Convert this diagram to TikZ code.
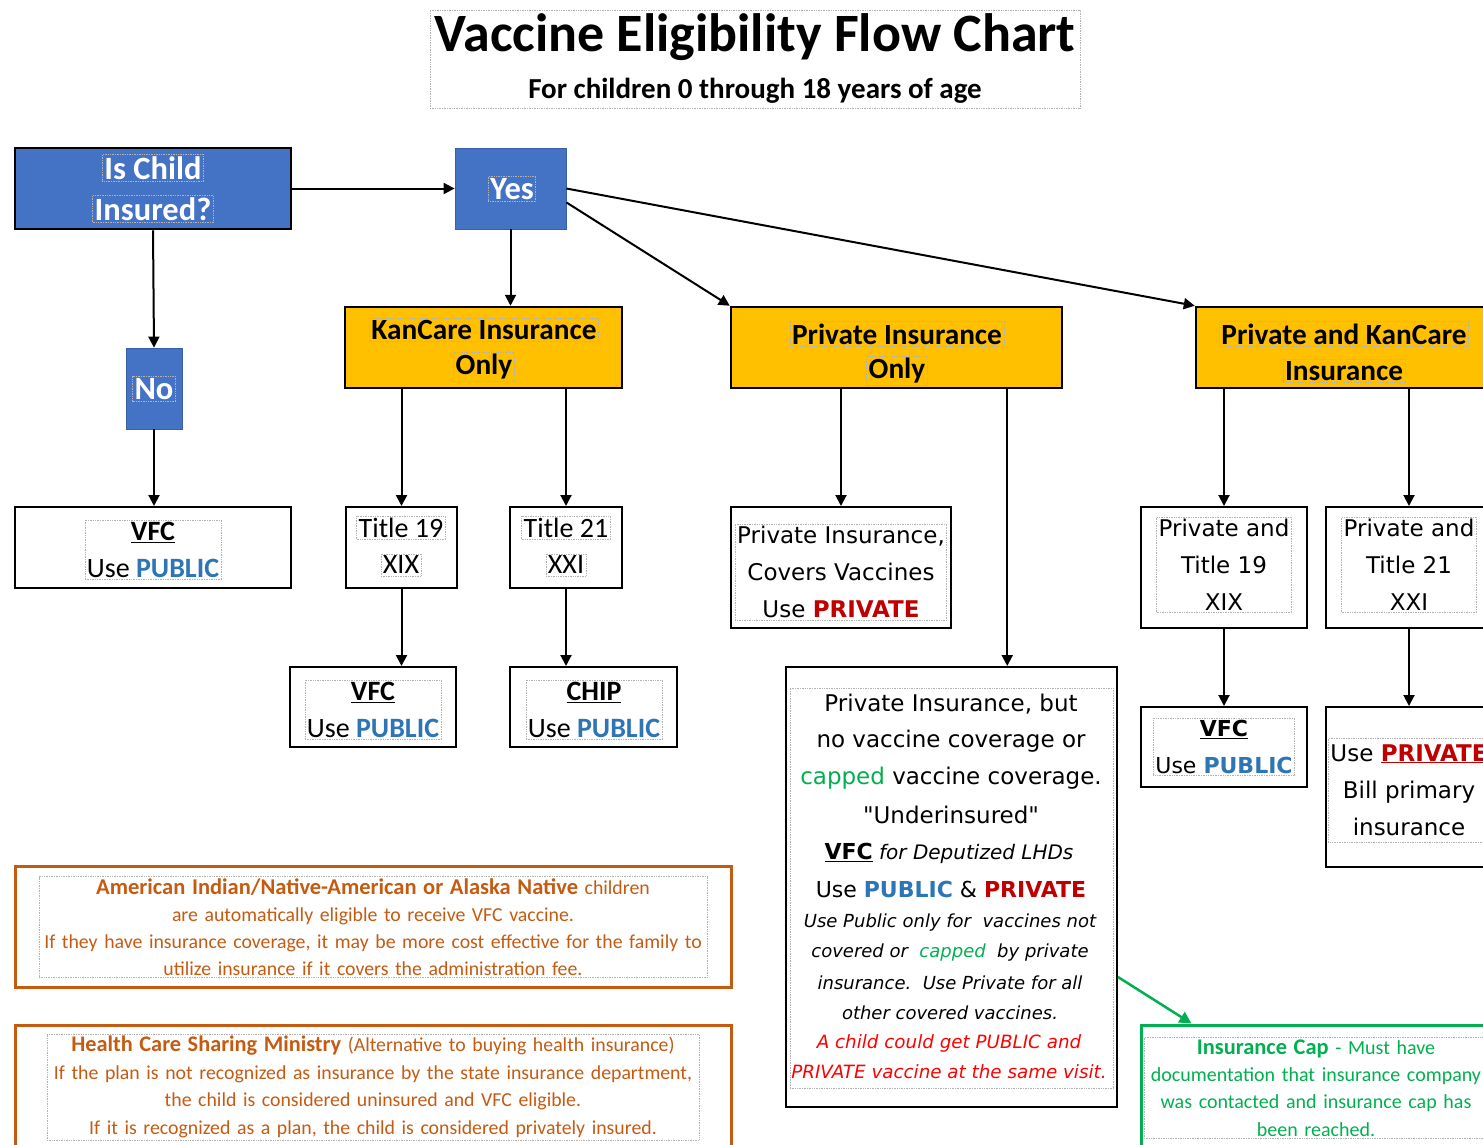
\documentclass[tikz,border=0pt]{standalone}
\usepackage{fontspec}
\setmainfont{Carlito}
\newfontfamily\ver{DejaVu Sans}[ItalicFont={DejaVu Sans Oblique},BoldItalicFont={DejaVu Sans Bold Oblique}]
\usetikzlibrary{arrows.meta,calc}
\definecolor{cblue}{HTML}{4472C4}
\definecolor{cyel}{HTML}{FFC000}
\definecolor{cpub}{HTML}{2E75B6}
\definecolor{cred}{HTML}{C00000}
\definecolor{cbright}{HTML}{FF0000}
\definecolor{cgreen}{HTML}{00B050}
\definecolor{corange}{HTML}{C55A11}
\newcommand\fsz[2]{\fontsize{#1}{#2}\selectfont}
\begin{document}
\begin{tikzpicture}[x=1pt,y=-1pt,
  arr/.style={draw=black,line width=2pt,-{Triangle[length=11pt,width=11pt]}},
  bluebox/.style={fill=cblue,draw=cblue!85!black,line width=0.8pt},
  qbox/.style={fill=cblue,draw=black,line width=2.5pt},
  ybox/.style={fill=cyel,draw=black,line width=2.5pt},
  wbox/.style={fill=white,draw=black,line width=2pt},
  obox/.style={draw=corange,line width=3pt},
  gbox/.style={draw=cgreen,line width=3pt},
  tf/.style={draw=gray!60,densely dotted,line width=0.7pt,inner sep=2pt,align=center},
  plain/.style={inner sep=1pt,align=center},
  wtxt/.style={tf,text=white,font=\fsz{32.5}{38}\bfseries},
  ytxt/.style={tf,text=black,font=\fsz{29.3}{35}\bfseries},
  ctxt/.style={tf,font=\fsz{28}{37}},
  vtxt/.style={tf,font=\ver\fsz{23}{37}},
]
\useasboundingbox (0,0) rectangle (1483,1144);

% title
\node[tf,minimum width=650pt,minimum height=98pt] (titlebox) at (755,59) {};
\node[plain,font=\fsz{54}{62}\bfseries] (title) at (755,37) {Vaccine Eligibility Flow Chart};
\node[plain,font=\fsz{29}{34}\bfseries] (sub) at (755,91) {For children 0 through 18 years of age};

% main boxes
\node[qbox,minimum width=276pt,minimum height=81pt] (q) at (153,188.5) {};
\node[bluebox,minimum width=111pt,minimum height=81pt] (yes) at (510.5,188.5) {};
\node[bluebox,minimum width=56pt,minimum height=81pt] (no) at (154,388.5) {};
\node[ybox,minimum width=277pt,minimum height=81pt] (kan) at (483.5,347.5) {};
\node[ybox,minimum width=331pt,minimum height=81pt] (pio) at (896.5,347.5) {};
\node[ybox,minimum width=296pt,minimum height=81pt] (pk) at (1344,347.5) {};
\node[wbox,minimum width=276pt,minimum height=81pt] (vfc1) at (153,547.5) {};
\node[wbox,minimum width=111pt,minimum height=81pt] (t19) at (401.5,547.5) {};
\node[wbox,minimum width=112pt,minimum height=81pt] (t21) at (566,547.5) {};
\node[wbox,minimum width=166pt,minimum height=80pt] (vfc2) at (373,707) {};
\node[wbox,minimum width=167pt,minimum height=80pt] (chip) at (593.5,707) {};
\node[wbox,minimum width=220pt,minimum height=121pt] (pcov) at (841,567.5) {};
\node[wbox,minimum width=331pt,minimum height=440pt] (under) at (951.5,887) {};
\node[wbox,minimum width=166pt,minimum height=121pt] (pt19) at (1224,567.5) {};
\node[wbox,minimum width=166pt,minimum height=121pt] (pt21) at (1409,567.5) {};
\node[wbox,minimum width=166pt,minimum height=80pt] (vfc3) at (1224,747) {};
\node[wbox,minimum width=166pt,minimum height=160pt] (bill) at (1409,787) {};
\node[obox,minimum width=716pt,minimum height=121pt] (ai) at (373,926.5) {};
\node[obox,minimum width=716pt,minimum height=130pt] (hcsm) at (373,1090) {};
\node[gbox,minimum width=348pt,minimum height=130pt] (cap) at (1315,1090) {};

% texts in coloured boxes
\node[wtxt] (qa) at (153,168) {Is Child};
\node[wtxt] (qb) at (153,209) {Insured?};
\node[wtxt] (yest) at (512,189) {Yes};
\node[wtxt] (not) at (154,389) {No};
\node[ytxt] (kana) at (484,330) {KanCare Insurance};
\node[ytxt] (kanb) at (484,367) {Only};
\node[ytxt] (pioa) at (897,334) {Private Insurance};
\node[ytxt] (piob) at (897,371) {Only};
\node[ytxt] (pka) at (1344,334) {Private and KanCare};
\node[ytxt] (pkb) at (1344,371) {Insurance};

% texts in white boxes
\node[ctxt] (vfc1t) at (153,550) {\underline{\textbf{VFC}}\\Use \textbf{\color{cpub}PUBLIC}};
\node[ctxt] (t19a) at (401,528) {Title 19};
\node[ctxt] (t19b) at (401,565) {XIX};
\node[ctxt] (t21a) at (566,528) {Title 21};
\node[ctxt] (t21b) at (566,565) {XXI};
\node[ctxt] (vfc2t) at (373,710) {\underline{\textbf{VFC}}\\Use \textbf{\color{cpub}PUBLIC}};
\node[ctxt] (chipt) at (594,710) {\underline{\textbf{CHIP}}\\Use \textbf{\color{cpub}PUBLIC}};
\node[vtxt] (pcovt) at (841,572) {Private Insurance,\\Covers Vaccines\\Use \textbf{\color{cred}PRIVATE}};
\node[vtxt] (pt19t) at (1224,565) {Private and\\Title 19\\XIX};
\node[vtxt] (pt21t) at (1409,565) {Private and\\Title 21\\XXI};
\node[tf,font=\ver\fsz{22}{37}] (vfc3t) at (1224,747) {\underline{\textbf{VFC}}\\Use \textbf{\color{cpub}PUBLIC}};
\node[vtxt,minimum height=104pt] (billt) at (1409,790) {Use \textbf{\color{cred}\underline{PRIVATE}}\\Bill primary\\insurance};

% underinsured box texts
\node[tf,minimum width=323pt,minimum height=400pt] (uf) at (951.5,888) {};
\node[plain,font=\ver\fsz{23}{28}] (u1) at (951,704) {Private Insurance, but};
\node[plain,font=\ver\fsz{23}{28}] (u2) at (951,741) {no vaccine coverage or};
\node[plain,font=\ver\fsz{23}{28}] (u3) at (951,778) {{\color{cgreen}capped} vaccine coverage.};
\node[plain,font=\ver\fsz{23}{28}] (u4) at (951,815) {"Underinsured"};
\node[plain,font=\ver\fsz{20}{24}] (u5) at (949,853) {{\fsz{22}{24}\underline{\textbf{VFC}}} \textit{for Deputized LHDs}};
\node[plain,font=\ver\fsz{22}{26}] (u6) at (951,889) {Use \textbf{\color{cpub}PUBLIC} \& \textbf{\color{cred}PRIVATE}};
\node[plain,font=\ver\fsz{18}{22}\itshape] (u7) at (950,923) {Use Public only for\ \ vaccines not};
\node[plain,font=\ver\fsz{18}{22}\itshape] (u8) at (950,953) {covered or\ \ {\color{cgreen}capped}\ \ by private};
\node[plain,font=\ver\fsz{18}{22}\itshape] (u9) at (950,983) {insurance.\ \ Use Private for all};
\node[plain,font=\ver\fsz{18}{22}\itshape] (u10) at (950,1013) {other covered vaccines.};
\node[plain,font=\ver\fsz{18.3}{23}\itshape,text=cbright] (u11) at (949,1043) {A child could get PUBLIC and};
\node[plain,font=\ver\fsz{18.3}{23}\itshape,text=cbright] (u12) at (949,1072) {PRIVATE vaccine at the same visit.};

% note boxes
\node[tf,text=corange,font=\fsz{19.8}{27},text width=664pt,inner sep=2pt] (ait) at (373,927)
  {{\fsz{22.5}{27}\bfseries American Indian/Native-American or Alaska Native} children\\
   are automatically eligible to receive VFC vaccine.\\
   If they have insurance coverage, it may be more cost effective for the family to\\
   utilize insurance if it covers the administration fee.};
\node[tf,text=corange,font=\fsz{19.8}{27.7},text width=648pt,inner sep=2pt] (hcsmt) at (373,1087)
  {{\fsz{22.3}{27}\bfseries Health Care Sharing Ministry} (Alternative to buying health insurance)\\
   If the plan is not recognized as insurance by the state insurance department,\\
   the child is considered uninsured and VFC eligible.\\
   If it is recognized as a plan, the child is considered privately insured.};
\node[tf,text=cgreen,font=\fsz{20}{27.3},text width=340pt,inner sep=2pt] (capt) at (1316,1088)
  {{\fsz{22.4}{27}\bfseries Insurance Cap} - Must have\\
   documentation that insurance company\\
   was contacted and insurance cap has\\
   been reached.};

% connectors
\draw[arr] (q.east) -- (yes.west);
\draw[arr] (q.south) -- (no.north);
\draw[arr] (no.south) -- (vfc1.north -| no.south);
\draw[arr] (yes.south) -- (yes.south |- kan.north);
\draw[arr] (yes.-14) -- (pio.north west);
\draw[arr] (yes.east) -- (pk.north west);
\draw[arr] (t19.north |- kan.south) -- (t19.north);
\draw[arr] (t21.north |- kan.south) -- (t21.north);
\draw[arr] (t19.south) -- (t19.south |- vfc2.north);
\draw[arr] (t21.south) -- (t21.south |- chip.north);
\draw[arr] (pcov.north |- pio.south) -- (pcov.north);
\draw[arr] ($(pio.south east)+(-56,0)$) coordinate (pu) -- (pu |- under.north);
\draw[arr] (pt19.north |- pk.south) -- (pt19.north);
\draw[arr] (pt21.north |- pk.south) -- (pt21.north);
\draw[arr] (pt19.south) -- (vfc3.north);
\draw[arr] (pt21.south) -- (bill.north);
\draw[arr,draw=cgreen,-{Triangle[length=12pt,width=12pt]},line width=2.5pt,color=cgreen] ($(under.east)+(0,90)$) -- ($(cap.north west)+(52,0)$);
\end{tikzpicture}
\end{document}
